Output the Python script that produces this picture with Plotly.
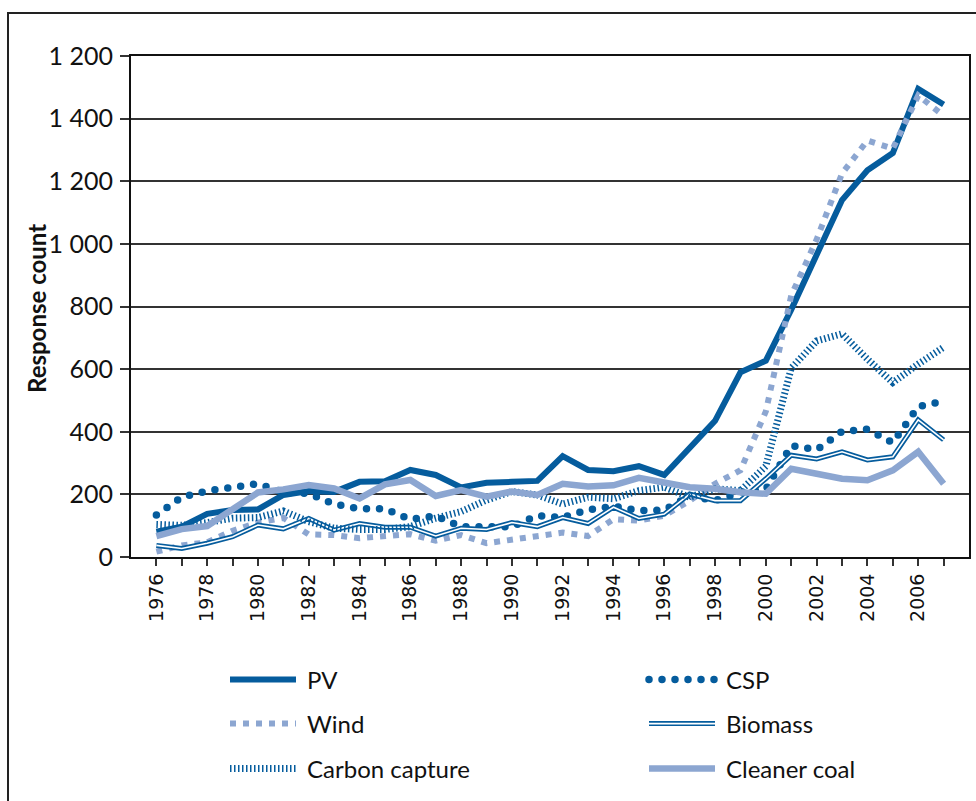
import plotly.graph_objects as go

years = list(range(1976, 2008))

pv = [81, 97, 138, 150, 152, 198, 211, 208, 240, 242, 278, 262, 222, 237, 240, 243,
      322, 278, 274, 290, 262, 352, 435, 590, 627, 790, 962, 1140, 1235, 1290, 1495, 1445]
csp = [134, 191, 211, 225, 234, 207, 203, 169, 154, 154, 120, 131, 97, 97, 97, 132,
       126, 151, 162, 148, 150, 195, 180, 207, 216, 356, 342, 401, 408, 365, 480, 498]
wind = [17, 37, 47, 84, 110, 125, 72, 70, 60, 65, 73, 52, 70, 44, 54, 65,
        78, 67, 121, 116, 132, 180, 234, 277, 465, 835, 1014, 1225, 1330, 1304, 1474, 1409]
biomass = [37, 27, 44, 65, 102, 90, 123, 86, 107, 95, 95, 67, 92, 88, 110, 97,
           126, 107, 159, 123, 137, 201, 180, 180, 250, 325, 313, 336, 310, 320, 438, 374]
carbon_capture = [104, 101, 110, 124, 126, 147, 113, 92, 88, 88, 97, 124, 145, 182, 209, 198,
                  169, 191, 186, 212, 223, 191, 218, 212, 290, 603, 690, 713, 632, 557, 616, 670]
cleaner_coal = [67, 89, 99, 150, 206, 216, 230, 219, 187, 232, 246, 195, 214, 193, 209, 198,
                234, 225, 229, 253, 239, 223, 218, 207, 202, 282, 266, 250, 245, 277, 336, 234]

y_tickvals = [0, 200, 400, 600, 800, 1000, 1200, 1400, 1600]
y_ticktext = ["0", "200", "400", "600", "800", "1 000", "1 200", "1 400", "1 200"]
x_tickvals = years
x_ticktext = [str(y) if y % 2 == 0 else "" for y in years]

DARK = "#055c9d"
LIGHT = "#8ca6d1"
FONT = "Lato"

PL, PR, PT, PB = 131, 969, 56, 557
PW, PH = PR - PL, PB - PT


def px_to_paper_y(y):
    return (PB - y) / PH


def px_to_paper_x(x):
    return (x - PL) / PW


COL1, COL2 = 225, 644
ROW1, ROW2, ROW3 = 680, 724, 769

fig = go.Figure()
fig.add_trace(go.Scatter(x=years, y=pv, name="PV", mode="lines",
                         line=dict(color=DARK, width=6), legend="legend"))
fig.add_trace(go.Scatter(x=years, y=csp, name="CSP", mode="lines",
                         line=dict(color=DARK, width=7.5, dash="0px,13px"), legend="legend2"))
fig.add_trace(go.Scatter(x=years, y=wind, name="Wind", mode="lines",
                         line=dict(color=LIGHT, width=6, dash="6px,7px"), legend="legend3"))
fig.add_trace(go.Scatter(x=years, y=biomass, name="Biomass", mode="lines",
                         line=dict(color=DARK, width=5), legend="legend4"))
fig.add_trace(go.Scatter(x=years, y=biomass, name="Biomass", mode="lines",
                         line=dict(color="#ffffff", width=1.6), legend="legend4",
                         showlegend=False, hoverinfo="skip"))
fig.add_trace(go.Scatter(x=years, y=carbon_capture, name="Carbon capture", mode="lines",
                         line=dict(color=DARK, width=7, dash="1.5px,2.5px"), legend="legend5"))
fig.add_trace(go.Scatter(x=years, y=cleaner_coal, name="Cleaner coal", mode="lines",
                         line=dict(color=LIGHT, width=6.5), legend="legend6"))


def leg(xpx, ypx):
    return dict(orientation="h", x=px_to_paper_x(xpx), xanchor="left",
                y=px_to_paper_y(ypx), yanchor="middle",
                font=dict(family=FONT, size=24, color="#111111"),
                bgcolor="rgba(0,0,0,0)", itemclick=False, itemdoubleclick=False)


fig.update_layout(
    width=976, height=801,
    margin=dict(l=PL, r=976 - PR, t=PT, b=801 - PB, autoexpand=False),
    paper_bgcolor="white", plot_bgcolor="white",
    font=dict(family=FONT, color="#111111"),
    showlegend=True,
    legend=leg(COL1, ROW1),
    legend2=leg(COL2, ROW1),
    legend3=leg(COL1, ROW2),
    legend4=leg(COL2, ROW2),
    legend5=leg(COL1, ROW3),
    legend6=leg(COL2, ROW3),
    xaxis=dict(range=[1975, 2008], tickvals=x_tickvals, ticktext=x_ticktext,
               tickangle=-90, ticks="outside", ticklen=7, tickwidth=1.5, tickcolor="#333333",
               tickfont=dict(family="DejaVu Sans", size=19, color="#111111"),
               showgrid=False, zeroline=False, showline=True, linecolor="#111111",
               linewidth=2, mirror=True, automargin=False),
    yaxis=dict(range=[0, 1600], tickvals=y_tickvals, ticktext=y_ticktext,
               ticks="outside", ticklen=9, tickwidth=1.5, tickcolor="#333333",
               ticklabelstandoff=2,
               tickfont=dict(family=FONT, size=25, color="#111111"),
               showgrid=True, gridcolor="#333333", gridwidth=1.5,
               zeroline=False, showline=True, linecolor="#111111", linewidth=2, mirror=True,
               automargin=False),
    annotations=[dict(text="<b>Response count</b>", textangle=-90, showarrow=False,
                      xref="paper", yref="paper", x=px_to_paper_x(36), y=px_to_paper_y(309),
                      xanchor="center", yanchor="middle",
                      font=dict(family=FONT, size=24, color="#111111"))],
    shapes=[dict(type="rect", xref="paper", yref="paper",
                 x0=px_to_paper_x(8), x1=px_to_paper_x(985),
                 y0=px_to_paper_y(815), y1=px_to_paper_y(13),
                 line=dict(color="#222222", width=2), fillcolor="rgba(0,0,0,0)", layer="below")],
)

post = """
(function(){
  document.documentElement.style.margin = '0';
  document.documentElement.style.padding = '0';
  document.body.style.margin = '0';
  document.body.style.padding = '0';
  document.body.style.overflow = 'hidden';
  var gd = document.getElementById('{plot_id}');
  var observer = null;
  function fix(){
    if(observer){ observer.disconnect(); }
    try {
      gd.querySelectorAll('g.traces').forEach(function(item){
        var t = item.querySelector('text');
        var name = t ? t.textContent : '';
        var p = item.querySelector('path.js-line');
        if(p){ p.setAttribute('d','M5,0h66'); }
        if(t){ t.setAttribute('transform','translate(42,0)'); }
        if(name==='CSP' && p){ p.style.strokeLinecap='round'; }
        if(name==='Biomass' && p && !item.querySelector('path.biomass-inner')){
          var c = p.cloneNode();
          c.setAttribute('class', 'biomass-inner');
          c.style.stroke = '#ffffff';
          c.style.strokeWidth = '1.6px';
          c.style.strokeDasharray = '';
          p.parentNode.appendChild(c);
        }
      });
      var traces = gd.querySelectorAll('.scatterlayer .trace');
      if(traces.length > 1){
        var l = traces[1].querySelector('path.js-line');
        if(l){ l.style.strokeLinecap = 'round'; }
      }
      gd.querySelectorAll('.scrollbox').forEach(function(sb){
        sb.removeAttribute('clip-path');
      });
    } catch(e) {}
    if(observer){ observer.observe(gd, {childList: true, subtree: true}); }
  }
  observer = new MutationObserver(function(){ fix(); });
  fix();
  if(gd.on){ gd.on('plotly_afterplot', fix); }
  [0, 20, 100, 300, 800].forEach(function(ms){ setTimeout(fix, ms); });
})();
"""

fig.write_html("out.html", post_script=post, config={"displayModeBar": False})
